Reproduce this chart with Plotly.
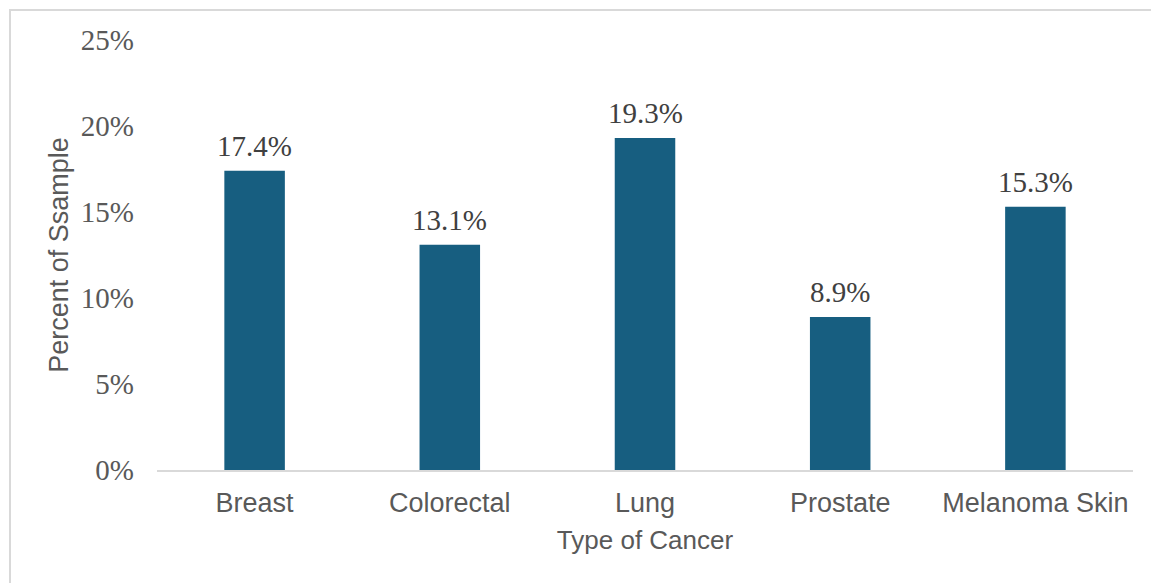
import plotly.graph_objects as go

categories = ["Breast", "Colorectal", "Lung", "Prostate", "Melanoma Skin"]
values = [0.174, 0.131, 0.193, 0.089, 0.153]
labels = ["17.4%", "13.1%", "19.3%", "8.9%", "15.3%"]
y_ticks = [0, 0.05, 0.10, 0.15, 0.20, 0.25]
y_tick_text = ["0%", "5%", "10%", "15%", "20%", "25%"]

W, H = 1151, 583
L, R, T, B = 157, 18, 40, 113
pw, ph = W - L - R, H - T - B

SERIF = "Liberation Serif, Times New Roman, serif"
SANS = "Liberation Sans, Arial, sans-serif"

fig = go.Figure(go.Bar(
    x=categories, y=values,
    marker=dict(color="#175E80", line=dict(width=0)),
    cliponaxis=False, hoverinfo="x+y",
))

annotations = [
    dict(x=c, y=v, text=t, xref="x", yref="y", showarrow=False,
         yanchor="bottom", yshift=7,
         font=dict(family=SERIF, size=29, color="#404040"))
    for c, v, t in zip(categories, values, labels)
]

fig.update_layout(
    width=W, height=H,
    margin=dict(l=L, r=R, t=T, b=B),
    paper_bgcolor="white", plot_bgcolor="white",
    bargap=0.69,
    showlegend=False,
    font=dict(family=SANS, size=24, color="#595959"),
    annotations=annotations,
    xaxis=dict(
        showline=True, linecolor="#d9d9d9", linewidth=2,
        ticks="", showgrid=False,
        tickfont=dict(family=SANS, size=27, color="#595959"),
        ticklabelstandoff=8,
        title=dict(text="Type of Cancer", standoff=13,
                   font=dict(family=SANS, size=26, color="#595959")),
    ),
    yaxis=dict(
        range=[0, 0.25], tickvals=y_ticks, ticktext=y_tick_text,
        showgrid=False, zeroline=False, showline=False, ticks="",
        tickfont=dict(family=SERIF, size=29, color="#595959"),
        ticklabelstandoff=22,
        title=dict(text="Percent of Ssample", standoff=4,
                   font=dict(family=SANS, size=27, color="#595959")),
    ),
    shapes=[dict(
        type="rect", xref="paper", yref="paper",
        x0=(10 - L) / pw, x1=(W + 20 - L) / pw,
        y0=-(H + 20 - T - ph) / ph, y1=(T + ph - 10) / ph,
        line=dict(color="#d9d9d9", width=2), fillcolor="rgba(0,0,0,0)", layer="below",
    )],
)

fig.write_html("out.html")
